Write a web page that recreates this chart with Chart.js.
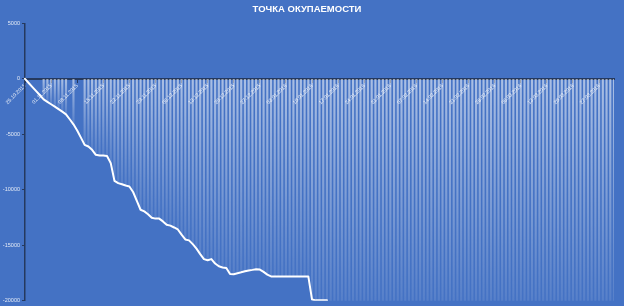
<!DOCTYPE html>
<html>
<head>
<meta charset="utf-8">
<script src="https://cdn.jsdelivr.net/npm/chart.js@4"></script>
<style>
  html, body { margin: 0; padding: 0; background: #4472C4; }
  #wrap { width: 624px; height: 306px; position: relative; }
</style>
</head>
<body>
<div id="wrap"><canvas id="c"></canvas></div>
<script>
const chartTitle = 'ТОЧКА ОКУПАЕМОСТИ';
const startDate = [2015, 9, 25];   // 25.10.2015
const dayCount = 159;               // daily categories through 31.03.2016
const tickEvery = 7;                // weekly date labels
const yMin = -20000, yMax = 5000, yStep = 5000;

// Cumulative balance, one value per day starting 25.10.2015
const balance = [
  0, -370, -740, -1110, -1480, -1850, -2070, -2290, -2500, -2730,
  -2960, -3200, -3640, -4100, -4650, -5300, -5950, -6100, -6400, -6850,
  -6900, -6900, -6950, -7600, -9200, -9400, -9500, -9620, -9700, -10200,
  -11000, -11800, -11950, -12200, -12520, -12600, -12600, -12850, -13150, -13230,
  -13400, -13580, -14050, -14480, -14560, -14900, -15300, -15800, -16250, -16360,
  -16250, -16650, -16900, -17000, -17060, -17600, -17610, -17520, -17440, -17350,
  -17270, -17220, -17160, -17190, -17400, -17650, -17810, -17810, -17810, -17810,
  -17810, -17810, -17810, -17810, -17810, -17810, -17810, -19900, -19970, -19970,
  -19970, -19970
];

// Daily columns (null = no entry for that day)
const dailyBars = [
  null, null, null, null, null, -1850, -2070, -2290, -2500, -2730,
  -2960, -3200, null, -4100, null, null, -5950, -6100, -6400, -6850,
  -6900, -6900, -6950, -7600, -9200, -9400, -9500, -9620, -9700, -10200,
  -11000, -11800, -11950, -12200, -12520, -12600, -12600, -12850, -13150, -13230,
  -13400, -13580, -14050, -14480, -14560, -14900, -15300, -15800, -16250, -16360,
  -16250, -16650, -16900, -17000, -17060, -17600, -17610, -17520, -17440, -17350,
  -17270, -17220, -17160, -17190, -17400, -17650, -17810, -17810, -17810, -17810,
  -17810, -17810, -17810, -17810, -17810, -17810, -17810, -19900, -19970, -19970,
  -19970, -19970, -20000, -20000, -20000, -20000, -20000, -20000, -20000, -20000,
  -20000, -20000, -20000, -20000, -20000, -20000, -20000, -20000, -20000, -20000,
  -20000, -20000, -20000, -20000, -20000, -20000, -20000, -20000, -20000, -20000,
  -20000, -20000, -20000, -20000, -20000, -20000, -20000, -20000, -20000, -20000,
  -20000, -20000, -20000, -20000, -20000, -20000, -20000, -20000, -20000, -20000,
  -20000, -20000, -20000, -20000, -20000, -20000, -20000, -20000, -20000, -20000,
  -20000, -20000, -20000, -20000, -20000, -20000, -20000, -20000, -20000, -20000,
  -20000, -20000, -20000, -20000, -20000, -20000, -20000, -20000, -20000
];

// Category labels: dd.mm.yyyy for every day
const pad2 = n => (n < 10 ? '0' : '') + n;
const dayLabels = [];
for (let i = 0; i < dayCount; i++) {
  const d = new Date(startDate[0], startDate[1], startDate[2] + i);
  dayLabels.push(pad2(d.getDate()) + '.' + pad2(d.getMonth() + 1) + '.' + d.getFullYear());
}

const axisColor = '#25395E';
const textColor = '#E3EAF6';
const fontFamily = "'Liberation Sans', Arial, sans-serif";

// Each column fades from the zero line towards its own end
function columnFill(ctx) {
  const chart = ctx.chart;
  const yScale = chart.scales && chart.scales.y;
  const v = ctx.raw;
  if (!chart.chartArea || !yScale || v == null) return 'rgba(255,255,255,0.35)';
  const top = yScale.getPixelForValue(0);
  const bottom = yScale.getPixelForValue(v);
  if (!(bottom > top + 1)) return 'rgba(255,255,255,0.45)';
  const g = chart.ctx.createLinearGradient(0, top, 0, bottom);
  g.addColorStop(0, 'rgba(255,255,255,0.55)');
  g.addColorStop(1, 'rgba(255,255,255,0.10)');
  return g;
}

new Chart(document.getElementById('c'), {
  type: 'bar',
  data: {
    labels: dayLabels,
    datasets: [
      {
        type: 'line',
        data: balance,
        borderColor: '#FFFFFF',
        borderWidth: 2,
        pointRadius: 0,
        tension: 0,
        borderJoinStyle: 'round',
        borderCapStyle: 'round',
        spanGaps: false,
        order: 0
      },
      {
        type: 'bar',
        data: dailyBars,
        backgroundColor: columnFill,
        borderWidth: 0,
        barThickness: 1.5,
        order: 1
      }
    ]
  },
  options: {
    responsive: true,
    maintainAspectRatio: false,
    animation: false,
    layout: { padding: { left: 0, right: 10, top: 0, bottom: 4 } },
    plugins: {
      legend: { display: false },
      tooltip: { enabled: false },
      title: {
        display: true,
        text: chartTitle,
        color: '#FFFFFF',
        font: { family: fontFamily, size: 9.5, weight: 'bold' },
        padding: { top: 4, bottom: 8 }
      }
    },
    scales: {
      x: {
        type: 'category',
        position: { y: 0 },
        offset: false,
        z: 1,
        border: { display: true, color: axisColor, width: 2 },
        grid: {
          display: true,
          offset: false,
          drawOnChartArea: false,
          drawTicks: true,
          tickLength: 3,
          tickWidth: 1,
          tickColor: c => (c.index % tickEvery === 0 ? axisColor : 'rgba(0,0,0,0)')
        },
        ticks: {
          autoSkip: false,
          maxRotation: 45,
          minRotation: 45,
          padding: 1,
          color: textColor,
          font: { family: fontFamily, size: 5.2 },
          callback: (val, i) => (i % tickEvery === 0 ? dayLabels[i] : '')
        },
        afterFit: s => { s.paddingLeft = 0; s.paddingRight = 0; }
      },
      y: {
        position: 'left',
        min: yMin,
        max: yMax,
        border: { display: true, color: axisColor, width: 1.5 },
        grid: {
          display: true,
          drawOnChartArea: false,
          drawTicks: true,
          tickLength: 3,
          tickColor: axisColor
        },
        ticks: {
          stepSize: yStep,
          padding: 2,
          color: textColor,
          font: { family: fontFamily, size: 5.5 },
          callback: v => String(v)
        },
        afterFit: s => { s.width = 25; }
      }
    }
  }
});
</script>
</body>
</html>
